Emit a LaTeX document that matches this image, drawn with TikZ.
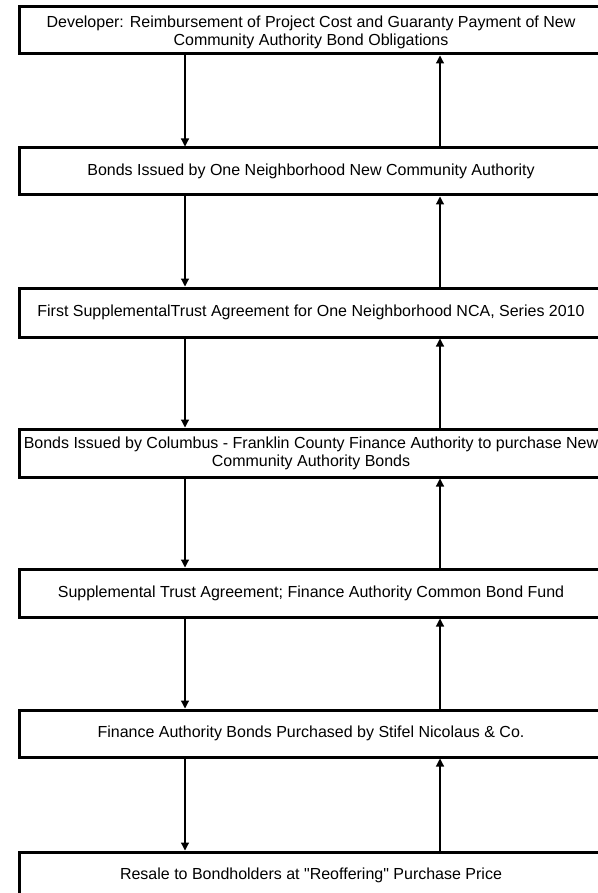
\documentclass[tikz,border=0pt]{standalone}
\usepackage{fontspec}
\setmainfont{Liberation Sans}[Ligatures=TeXOff]
\usepackage{tikz}
\usetikzlibrary{arrows.meta}

\tikzset{
	stage/.style={draw,line width=3pt,minimum width=584pt,minimum height=47pt,inner sep=0pt},
	stagetext/.style={align=center,inner sep=0pt,font=\fontsize{16}{18}\selectfont},
	flow/.style={line width=1.2pt,-{Triangle[length=8pt,width=8pt]}}
}

\begin{document}
\begin{tikzpicture}[x=1pt,y=-1pt]
	\useasboundingbox (0,0) rectangle (597,893);
	% boxes
	\node[stage] (developer) at (311,30.5) {};
	\node[stage] (ncabonds) at (311,171.5) {};
	\node[stage,minimum height=49pt] (trust) at (311,312.5) {};
	\node[stage,minimum height=48pt] (cffabonds) at (311,453) {};
	\node[stage,minimum height=48pt] (commonfund) at (311,593) {};
	\node[stage] (stifel) at (311,733.5) {};
	\node[stage] (resale) at (311,875.5) {};
	% texts
	\node[stagetext] (developer text) at ([yshift=-1.5pt]developer.center) {Developer: Reimbursement of Project Cost and Guaranty Payment of New\\Community Authority Bond Obligations};
	\node[stagetext] (ncabonds text) at (ncabonds.center) {Bonds Issued by One Neighborhood New Community Authority};
	\node[stagetext] (trust text) at (trust.center) {First SupplementalTrust Agreement for One Neighborhood NCA, Series 2010};
	\node[stagetext] (cffabonds text) at (cffabonds.center) {Bonds Issued by Columbus - Franklin County Finance Authority to purchase New\\Community Authority Bonds};
	\node[stagetext] (commonfund text) at (commonfund.center) {Supplemental Trust Agreement; Finance Authority Common Bond Fund};
	\node[stagetext] (stifel text) at (stifel.center) {Finance Authority Bonds Purchased by Stifel Nicolaus \& Co.};
	\node[stagetext] (resale text) at (resale.center) {Resale to Bondholders at "Reoffering" Purchase Price};
	% flows
	\coordinate (down) at (185,0);
	\coordinate (up) at (440,0);
	\draw[flow] (developer.south -| down) -- (ncabonds.north -| down);
	\draw[flow] (ncabonds.north -| up) -- (developer.south -| up);
	\draw[flow] (ncabonds.south -| down) -- (trust.north -| down);
	\draw[flow] (trust.north -| up) -- (ncabonds.south -| up);
	\draw[flow] (trust.south -| down) -- (cffabonds.north -| down);
	\draw[flow] (cffabonds.north -| up) -- (trust.south -| up);
	\draw[flow] (cffabonds.south -| down) -- (commonfund.north -| down);
	\draw[flow] (commonfund.north -| up) -- (cffabonds.south -| up);
	\draw[flow] (commonfund.south -| down) -- (stifel.north -| down);
	\draw[flow] (stifel.north -| up) -- (commonfund.south -| up);
	\draw[flow] (stifel.south -| down) -- (resale.north -| down);
	\draw[flow] (resale.north -| up) -- (stifel.south -| up);
\end{tikzpicture}
\end{document}
